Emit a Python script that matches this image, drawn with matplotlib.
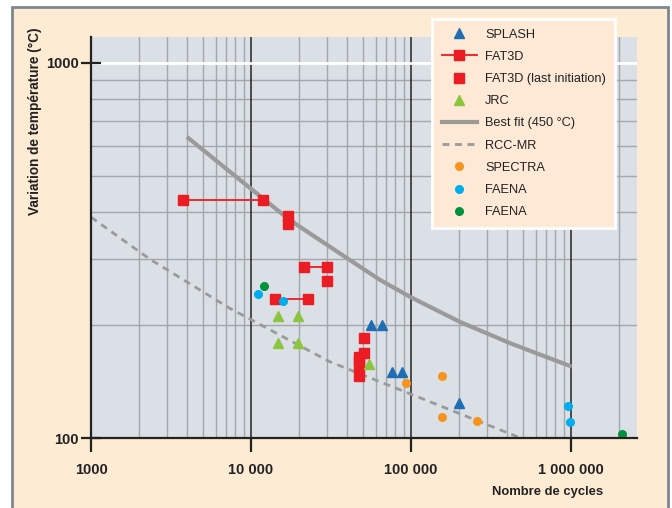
import matplotlib
matplotlib.use("Agg")
import matplotlib.pyplot as plt
from matplotlib.patches import Rectangle
from matplotlib.lines import Line2D
from matplotlib.ticker import FixedLocator, NullFormatter

plt.rcParams['font.family'] = ['Liberation Sans', 'DejaVu Sans']

# best fit (450 °C) and RCC-MR design curve
fit_n = [3980, 9860, 17500, 41600, 64000, 98500, 202000, 416000, 1010000]
fit_t = [635, 464, 381, 298, 264, 238, 204, 179, 155]
rcc_n = [1000, 2330, 7340, 30800, 484000]
rcc_t = [388, 300, 222, 160, 100]

# FAT3D: initiation ranges (start/end cycles at same delta T)
fat3d_n_start = [3740, 21500, 14200]
fat3d_n_end = [11800, 30000, 22800]
fat3d_t = [431, 286, 235]

# FAT3D last initiation
fat3d_last_n = [17100, 17100, 30000, 50900, 50900, 47400, 47400, 47400, 47400]
fat3d_last_t = [390, 372, 262, 185, 169, 164, 160, 155, 146]

splash_n = [56400, 65900, 76200, 87900, 199000]
splash_t = [200, 200, 150, 150, 124]

jrc_n = [14800, 19800, 14800, 19800, 54700]
jrc_t = [211, 211, 179, 179, 158]

spectra_n = [93100, 156000, 156000, 258000]
spectra_t = [140, 146, 114, 111]

faena_n = [11000, 15900, 951000, 980000]
faena_t = [242, 232, 122, 110]

faena2_n = [12100, 2070000]
faena2_t = [254, 102.5]

peach = '#fdebd3'
red = '#ec1c24'
blue = '#1f6db5'
lgreen = '#8cc63f'
orange = '#f7941d'
cyan = '#00aeef'
dgreen = '#00923f'
gray = '#9a9a9a'
ink = '#222222'

fig = plt.figure(figsize=(6.72, 5.08), dpi=100)
fig.patch.set_facecolor('white')
fig.patches.append(Rectangle((12 / 672, -0.05), 656 / 672, 1.05 - 7 / 508,
                             transform=fig.transFigure, facecolor=peach,
                             edgecolor='#7d8891', lw=2, zorder=-1))

ax = fig.add_axes([91 / 672, 1 - 438 / 508, 546 / 672, 401 / 508])
ax.set_facecolor('#dae0e6')
ax.set_xscale('log')
ax.set_yscale('log')
ax.set_xlim(1000, 2.585e6)
ax.set_ylim(100, 1173)

# grid
xminor = [m * 10 ** e for e in range(3, 7) for m in range(2, 10)]
for x in xminor:
    ax.axvline(x, color='#a3a7ab', lw=1, zorder=1)
for x in [1e4, 1e5, 1e6]:
    ax.axvline(x, color=ink, lw=1.1, zorder=1.5)
for y in range(200, 1000, 100):
    ax.axhline(y, color='#a3a7ab', lw=1, zorder=1)
ax.axhline(1000, color='white', lw=2, zorder=1.5)

ax.plot(fit_n, fit_t, color=gray, lw=3, solid_capstyle='butt', solid_joinstyle='round', zorder=3)
ax.plot(rcc_n, rcc_t, color=gray, lw=2, ls=(0, (2.5, 2)), zorder=3)

for n0, n1, t in zip(fat3d_n_start, fat3d_n_end, fat3d_t):
    ax.plot([n0, n1], [t, t], color=red, lw=1.3, marker='s', ms=7, zorder=4)
ax.plot(fat3d_last_n, fat3d_last_t, ls='none', marker='s', ms=7, color=red, zorder=4)
ax.plot(splash_n, splash_t, ls='none', marker='^', ms=7, color=blue, zorder=4)
ax.plot(jrc_n, jrc_t, ls='none', marker='^', ms=7, color=lgreen, zorder=4)
ax.plot(spectra_n, spectra_t, ls='none', marker='o', ms=5.5, color=orange, zorder=4)
ax.plot(faena_n, faena_t, ls='none', marker='o', ms=5.5, color=cyan, zorder=4)
ax.plot(faena2_n, faena2_t, ls='none', marker='o', ms=5.5, color=dgreen, zorder=4)

# axes and ticks
for s in ['top', 'right']:
    ax.spines[s].set_visible(False)
for s in ['left', 'bottom']:
    ax.spines[s].set_linewidth(1.6)
    ax.spines[s].set_color(ink)
    ax.spines[s].set_zorder(5)

ax.xaxis.set_major_locator(FixedLocator([1e3, 1e4, 1e5, 1e6]))
ax.xaxis.set_minor_formatter(NullFormatter())
ax.set_xticklabels(['1000', '10 000', '100 000', '1 000 000'])
ax.yaxis.set_major_locator(FixedLocator([100, 1000]))
ax.yaxis.set_minor_formatter(NullFormatter())
ax.set_yticklabels(['100', '1000'])
ax.tick_params(which='minor', length=0)
ax.tick_params(axis='x', which='major', direction='out', length=10, width=1.6,
               color=ink, pad=8, labelsize=10.5)
ax.tick_params(axis='y', which='major', direction='inout', length=14, width=1.6,
               color=ink, pad=2, labelsize=10.5)
for lab in ax.get_xticklabels() + ax.get_yticklabels():
    lab.set_fontweight('bold')
    lab.set_color(ink)

ax.set_ylabel('Variation de température (°C)', fontsize=9.8, fontweight='bold', color=ink)
ax.yaxis.set_label_coords(-0.09, 0.79)
ax.text(0.837, -0.135, 'Nombre de cycles', transform=ax.transAxes, ha='center',
        va='center', fontsize=9.4, fontweight='bold', color=ink)

handles = [
    Line2D([], [], ls='none', marker='^', ms=7, color=blue),
    Line2D([], [], color=red, lw=1.3, marker='s', ms=7),
    Line2D([], [], ls='none', marker='s', ms=7, color=red),
    Line2D([], [], ls='none', marker='^', ms=7, color=lgreen),
    Line2D([], [], color=gray, lw=3),
    Line2D([], [], color=gray, lw=2, ls=(0, (2.5, 2))),
    Line2D([], [], ls='none', marker='o', ms=5.5, color=orange),
    Line2D([], [], ls='none', marker='o', ms=5.5, color=cyan),
    Line2D([], [], ls='none', marker='o', ms=5.5, color=dgreen),
]
labels = ['SPLASH', 'FAT3D', 'FAT3D (last initiation)', 'JRC', 'Best fit (450 °C)',
          'RCC-MR', 'SPECTRA', 'FAENA', 'FAENA']
leg = ax.legend(handles, labels, loc='upper left', bbox_to_anchor=(0.6245, 1.045),
                borderaxespad=0, fontsize=9.2, handlelength=2.8, handletextpad=0.6,
                labelspacing=0.8, borderpad=0.75, fancybox=False, framealpha=1)
leg.get_frame().set_facecolor('#fde9d5')
leg.get_frame().set_edgecolor('white')
leg.get_frame().set_linewidth(2)
leg.set_zorder(10)
for t in leg.get_texts():
    t.set_color(ink)

fig.savefig('out.png', dpi=100)
